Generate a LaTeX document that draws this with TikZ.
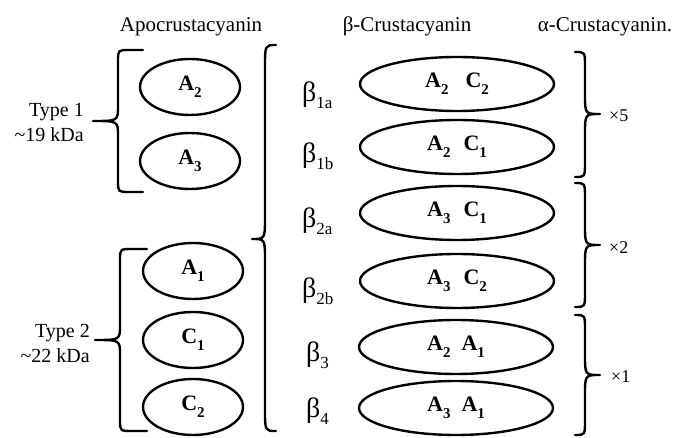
\documentclass[tikz,border=0pt]{standalone}
\usepackage{fontspec}
\setmainfont{Liberation Serif}
\usetikzlibrary{shapes.geometric}
\newcommand{\sbs}[1]{\raisebox{-0.3em}{\fontsize{15}{15}\selectfont #1}}
\newcommand{\bsbs}[1]{\raisebox{-0.25em}{\fontsize{17}{17}\selectfont #1}}
% #1 xe, #2 xv, #3 xt, #4 y1, #5 ym, #6 y2, #7 end curl, #8 tip length, #9 fraction of end that is curved
\newcommand{\drawbrace}[9]{%
  \draw[bracestyle] ({#1},{#4}) -- ({#2+(#1-#2)*#9},{#4}) .. controls ({#2},{#4}) .. ({#2},{#4+#7})
    -- ({#2},{#5-#8}) .. controls ({#2},{#5}) .. ({#3},{#5})
    .. controls ({#2},{#5}) .. ({#2},{#5+#8})
    -- ({#2},{#6-#7}) .. controls ({#2},{#6}) .. ({#2+(#1-#2)*#9},{#6}) -- ({#1},{#6});}
\begin{document}
\begin{tikzpicture}[x=1pt,y=-1pt,
  smallell/.style={ellipse, draw, line width=2.4pt, minimum width=100pt, minimum height=56pt, inner sep=0pt, font=\fontsize{22}{22}\selectfont\bfseries},
  bigell/.style={ellipse, draw, line width=2.4pt, minimum width=194pt, minimum height=54pt, inner sep=0pt, font=\fontsize{22}{22}\selectfont\bfseries},
  hdr/.style={anchor=base, inner sep=0pt, font=\fontsize{21}{21}\selectfont},
  typelbl/.style={anchor=east, align=right, inner sep=0pt, font=\fontsize{20}{25}\selectfont},
  betalbl/.style={anchor=base west, inner sep=0pt, font=\fontsize{28}{28}\selectfont},
  mult/.style={anchor=west, inner sep=0pt, font=\fontsize{18}{18}\selectfont},
  bracestyle/.style={line width=2.4pt, line cap=round, line join=round}
]
\useasboundingbox (0,0) rectangle (673,438);

% headers
\node[hdr] (hapo) at (191,32) {Apocrustacyanin};
\node[hdr] (hbeta) at (407,32) {β-Crustacyanin};
\node[hdr] (halpha) at (605,32) {α-Crustacyanin.};

% apocrustacyanin subunits
\node[smallell] (A2) at (190,87) {A\sbs{2}};
\node[smallell] (A3) at (190,161) {A\sbs{3}};
\node[smallell] (A1) at (193,271) {A\sbs{1}};
\node[smallell] (C1) at (193,340) {C\sbs{1}};
\node[smallell] (C2) at (193,407) {C\sbs{2}};

% type labels
\node[typelbl] (t1) at (84,122) {Type 1\\\textasciitilde19 kDa};
\node[typelbl] (t2) at (90,343) {Type 2\\\textasciitilde22 kDa};

% braces left
\drawbrace{143}{118}{93}{50}{121}{192}{11}{15}{0.45}
\drawbrace{147}{120}{95}{249}{340}{431}{11}{15}{0.45}
\drawbrace{276}{265}{252}{45}{239}{431}{22}{22}{1}

% beta labels
\node[betalbl] (b1a) at (302,102) {β\bsbs{1a}};
\node[betalbl] (b1b) at (302,163) {β\bsbs{1b}};
\node[betalbl] (b2a) at (302,228) {β\bsbs{2a}};
\node[betalbl] (b2b) at (302,298) {β\bsbs{2b}};
\node[betalbl] (b3) at (306,362) {β\bsbs{3}};
\node[betalbl] (b4) at (306,418) {β\bsbs{4}};

% beta-crustacyanin dimers
\node[bigell] (e1a) at (457,84) {A\sbs{2}\hspace{17pt}C\sbs{2}};
\node[bigell] (e1b) at (457,147) {A\sbs{2}\hspace{13pt}C\sbs{1}};
\node[bigell] (e2a) at (457,213) {A\sbs{3}\hspace{13pt}C\sbs{1}};
\node[bigell] (e2b) at (457,281) {A\sbs{3}\hspace{13pt}C\sbs{2}};
\node[bigell] (e3) at (456,347) {A\sbs{2}\hspace{11pt}A\sbs{1}};
\node[bigell] (e4) at (456,408) {A\sbs{3}\hspace{11pt}A\sbs{1}};

% right braces
\drawbrace{575}{585}{600}{52}{114}{177}{14}{20}{1}
\drawbrace{575}{585}{600}{183}{245}{307}{14}{20}{1}
\drawbrace{575}{585}{600}{315}{375}{435}{14}{20}{1}

\node[mult] (m5) at (609,116) {×5};
\node[mult] (m2) at (609,248) {×2};
\node[mult] (m1) at (611,377) {×1};
\end{tikzpicture}
\end{document}
